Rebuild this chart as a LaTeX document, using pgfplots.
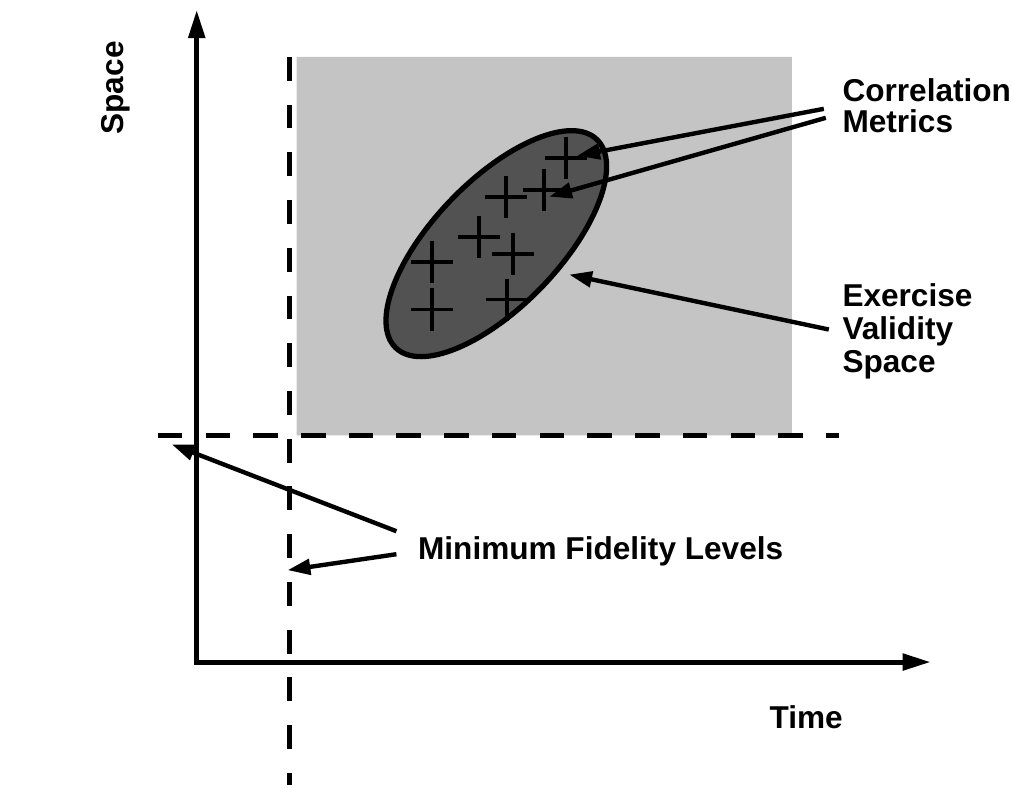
\documentclass[border=0pt]{standalone}
\usepackage{pgfplots}
\pgfplotsset{compat=1.18}
\usetikzlibrary{arrows.meta}
\usepackage{fontspec}
\setmainfont{Liberation Sans}
\tikzset{
  lbl/.style={font=\bfseries\fontsize{9}{9}\selectfont, inner sep=0pt},
  arr/.style={line width=1.25pt, -{Triangle[length=6.5pt,width=4.4pt]}},
}
\begin{document}
\begin{tikzpicture}
\begin{axis}[
  width=101.1mm, height=78.6mm, scale only axis,
  xmin=0, xmax=1011, ymin=0, ymax=786,
  hide axis, clip=false,
]
\addplot[draw=none] coordinates {(0,0) (1011,786)};
% shaded validity region
\addplot[fill=black!23, draw=none] coordinates {(297,350) (793,350) (793,729) (297,729) (297,350)};
% minimum fidelity levels (dashed)
\addplot[line width=1.4pt, dash pattern=on 6.8pt off 6.8pt] coordinates {(290,729) (290,0)};
\addplot[line width=1.4pt, dash pattern=on 7pt off 6.6pt] coordinates {(158,350) (840,350)};
% axes
\addplot[line width=1.4pt, line join=miter, {Triangle[length=8pt,width=4.6pt]}-{Triangle[length=8pt,width=4.6pt]}] coordinates {(197,776) (197,123) (932,123)};
% exercise validity ellipse
\draw[line width=1.5pt, fill=black!68, rotate around={46:(axis cs:497,542)}] (axis cs:497,542) ellipse [x radius=14.5mm, y radius=6.3mm];
% correlation metric points
\addplot[only marks, mark=+, mark size=6pt, mark options={line width=1.1pt}] coordinates {(567,628) (507,589) (545,596) (480,549) (514,532) (433,524) (433,476) (508,486)};
% leader arrows
\addplot[arr] coordinates {(825,677) (578,630)};
\addplot[arr] coordinates {(827,668) (550,589)};
\addplot[arr] coordinates {(830,456) (570,511)};
\addplot[arr] coordinates {(397,254) (172,341)};
\addplot[arr] coordinates {(397,231) (288,215)};
% labels
\node[lbl, anchor=base west] at (axis cs:843,684) {Correlation};
\node[lbl, anchor=base west] at (axis cs:843,653) {Metrics};
\node[lbl, anchor=base west] at (axis cs:843,479) {Exercise};
\node[lbl, anchor=base west] at (axis cs:843,446) {Validity};
\node[lbl, anchor=base west] at (axis cs:843,413) {Space};
\node[lbl, anchor=base west] at (axis cs:418,226) {Minimum Fidelity Levels};
\node[lbl, anchor=base west] at (axis cs:770,56) {Time};
\node[lbl, anchor=base, rotate=90] at (axis cs:124,698) {Space};
\end{axis}
\end{tikzpicture}
\end{document}
